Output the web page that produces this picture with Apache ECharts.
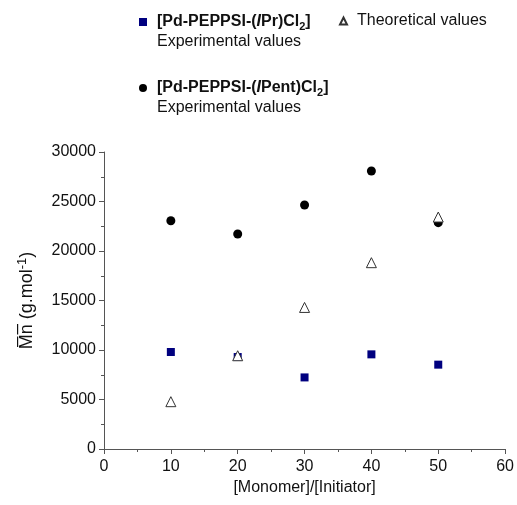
<!DOCTYPE html>
<html>
<head>
<meta charset="utf-8">
<script src="https://cdn.jsdelivr.net/npm/echarts@6/dist/echarts.min.js"></script>
<style>
  html, body { margin: 0; padding: 0; background: #fff; }
  #chart { width: 517px; height: 505px; }
</style>
</head>
<body>
<div id="chart"></div>
<script>
// data
const ratios = [10, 20, 30, 40, 50]
const iprValues = [9800, 9290, 7230, 9560, 8520]
const ipentValues = [23060, 21720, 24650, 28080, 22860]
const theoValues = [4780, 9420, 14300, 18820, 23430]

const pairs = ys => ratios.map((x, i) => [x, ys[i]])

const FONT = '"Liberation Sans", Arial, sans-serif'
const legendRich = {
  b: { fontFamily: FONT, fontSize: 16, fontWeight: 'bold', color: '#111', lineHeight: 20 },
  bi: { fontFamily: FONT, fontSize: 16, fontWeight: 'bold', fontStyle: 'italic', color: '#111', lineHeight: 20 },
  sub: { fontFamily: FONT, fontSize: 11, fontWeight: 'bold', color: '#111', lineHeight: 13, verticalAlign: 'bottom' },
  n: { fontFamily: FONT, fontSize: 16, color: '#111', lineHeight: 20 },
}

const names = {
  ipr: 'IPr',
  ipent: 'IPent',
  theo: 'Theoretical values',
}

function legendText(name) {
  if (name === names.ipr) {
    return '{n| }\n{b|[Pd-PEPPSI-(}{bi|I}{b|Pr)Cl}{sub|2}{b|]}\n{n|Experimental values}'
  }
  if (name === names.ipent) {
    return '{n| }\n{b|[Pd-PEPPSI-(}{bi|I}{b|Pent)Cl}{sub|2}{b|]}\n{n|Experimental values}'
  }
  return '{n|Theoretical values}'
}

const baseLegend = {
  orient: 'vertical',
  itemWidth: 8,
  itemHeight: 8,
  itemGap: 0,
  padding: 0,
  formatter: legendText,
  textStyle: { rich: legendRich, padding: [0, 0, 0, 5] },
}

const chart = echarts.init(document.getElementById('chart'))
chart.setOption({
  animation: false,
  backgroundColor: '#fff',
  textStyle: { fontFamily: FONT },
  legend: [
    Object.assign({}, baseLegend, { data: [names.ipr], left: 139, top: -6 }),
    Object.assign({}, baseLegend, {
      data: [names.theo], left: 339, top: 13, itemWidth: 7, itemHeight: 7,
    }),
    Object.assign({}, baseLegend, { data: [names.ipent], left: 139, top: 60 }),
  ],
  grid: { left: 104, right: 9, top: 152, bottom: 56, containLabel: false },
  xAxis: {
    type: 'value',
    min: 0,
    max: 60,
    interval: 10,
    name: '[Monomer]/[Initiator]',
    nameLocation: 'middle',
    nameGap: 31,
    nameTextStyle: { fontFamily: FONT, fontSize: 16, color: '#111' },
    splitLine: { show: false },
    axisLine: { lineStyle: { color: '#555', width: 1 } },
    axisTick: { show: true, length: 5, lineStyle: { color: '#555' } },
    minorTick: { show: true, splitNumber: 2, length: 3, lineStyle: { color: '#555' } },
    axisLabel: { fontFamily: FONT, fontSize: 16, color: '#111', margin: 10 },
  },
  yAxis: {
    type: 'value',
    min: 0,
    max: 30000,
    interval: 5000,
    name: '{n|M\u0305n\u0305 (g.mol}{sup|-1}{n|)}',
    nameLocation: 'middle',
    nameGap: 66,
    nameRotate: 90,
    nameTextStyle: {
      rich: {
        n: { fontFamily: FONT, fontSize: 18, color: '#111', lineHeight: 22 },
        sup: { fontFamily: FONT, fontSize: 13, color: '#111', lineHeight: 15, verticalAlign: 'top' },
      },
    },
    splitLine: { show: false },
    axisLine: { show: true, lineStyle: { color: '#555', width: 1 } },
    axisTick: { show: true, length: 5, lineStyle: { color: '#555' } },
    minorTick: { show: true, splitNumber: 2, length: 3, lineStyle: { color: '#555' } },
    axisLabel: { fontFamily: FONT, fontSize: 16, color: '#111', margin: 8, formatter: v => String(v) },
  },
  series: [
    {
      name: names.ipr,
      type: 'scatter',
      symbol: 'rect',
      symbolSize: 8,
      itemStyle: { color: '#00007f', opacity: 1 },
      data: pairs(iprValues),
      z: 2,
    },
    {
      name: names.ipent,
      type: 'scatter',
      symbol: 'circle',
      symbolSize: 9,
      itemStyle: { color: '#000', opacity: 1 },
      data: pairs(ipentValues),
      z: 2,
    },
    {
      name: names.theo,
      type: 'scatter',
      symbol: 'triangle',
      symbolSize: 10,
      itemStyle: { color: '#fff', borderColor: '#333', borderWidth: 1, opacity: 1 },
      data: pairs(theoValues),
      z: 3,
    },
  ],
})
</script>
</body>
</html>
